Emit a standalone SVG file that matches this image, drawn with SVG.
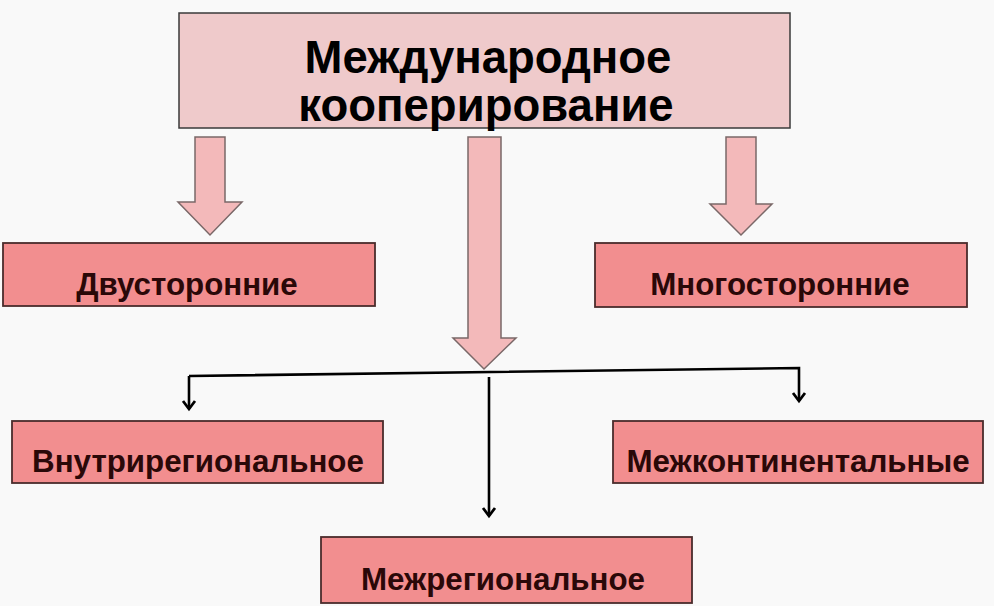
<svg xmlns="http://www.w3.org/2000/svg" width="994" height="606" viewBox="0 0 994 606">
  <defs>
    <marker id="chev" markerUnits="userSpaceOnUse" markerWidth="20" markerHeight="20" viewBox="-10 -10 20 20" refX="0" refY="0" orient="auto">
      <path d="M-8,-6 L0,0 L-8,6" fill="none" stroke="#000" stroke-width="2.8" stroke-linejoin="miter"/>
    </marker>
  </defs>
  <style>
    .top { fill: #efcacb; stroke: #3a3a3a; stroke-width: 1.5; }
    .box { fill: #f28e8f; stroke: #4a2c2c; stroke-width: 1.8; }
    .big { fill: #f3b9ba; stroke: #7a6868; stroke-width: 1.5; stroke-linejoin: miter; }
    .title { font-family: "Liberation Sans", Arial, sans-serif; font-weight: bold; font-size: 45.5px; fill: #000; text-anchor: middle; }
    .lbl { font-family: "Liberation Sans", Arial, sans-serif; font-weight: bold; font-size: 31.3px; fill: #2a0808; text-anchor: middle; }
    .wire { fill: none; stroke: #000; stroke-width: 2.6; }
  </style>
  <rect width="994" height="606" fill="#f9f9f9"/>

  <g id="connectors">
    <polygon class="big" points="195,137 225,137 225,202 242,202 210,235 178,202 195,202"/>
    <polygon class="big" points="468,137 501,137 501,338 516,338 484,369 453,338 468,338"/>
    <polygon class="big" points="726,137 756,137 756,204 772,204 741,235 710,204 726,204"/>
    <polyline class="wire" points="189,376 799,368 799,401" marker-end="url(#chev)"/>
    <line class="wire" x1="189" y1="376" x2="189" y2="409" marker-end="url(#chev)"/>
    <line class="wire" x1="489" y1="377" x2="489" y2="516" marker-end="url(#chev)"/>
  </g>

  <g id="node-main">
    <rect class="top" x="179" y="13" width="611" height="115"/>
    <text class="title" x="488" y="73">Международное</text>
    <text class="title" x="486" y="121">кооперирование</text>
  </g>
  <g id="node-bilateral">
    <rect class="box" x="3" y="243" width="372" height="63"/>
    <text class="lbl" x="187" y="295">Двусторонние</text>
  </g>
  <g id="node-multilateral">
    <rect class="box" x="595" y="243" width="372" height="64"/>
    <text class="lbl" x="780" y="295">Многосторонние</text>
  </g>
  <g id="node-intraregional">
    <rect class="box" x="12" y="421" width="371" height="62"/>
    <text class="lbl" x="198" y="472">Внутрирегиональное</text>
  </g>
  <g id="node-intercontinental">
    <rect class="box" x="613" y="421" width="370" height="62"/>
    <text class="lbl" x="798" y="472">Межконтинентальные</text>
  </g>
  <g id="node-interregional">
    <rect class="box" x="321" y="537" width="371" height="66"/>
    <text class="lbl" x="503" y="590">Межрегиональное</text>
  </g>
</svg>
